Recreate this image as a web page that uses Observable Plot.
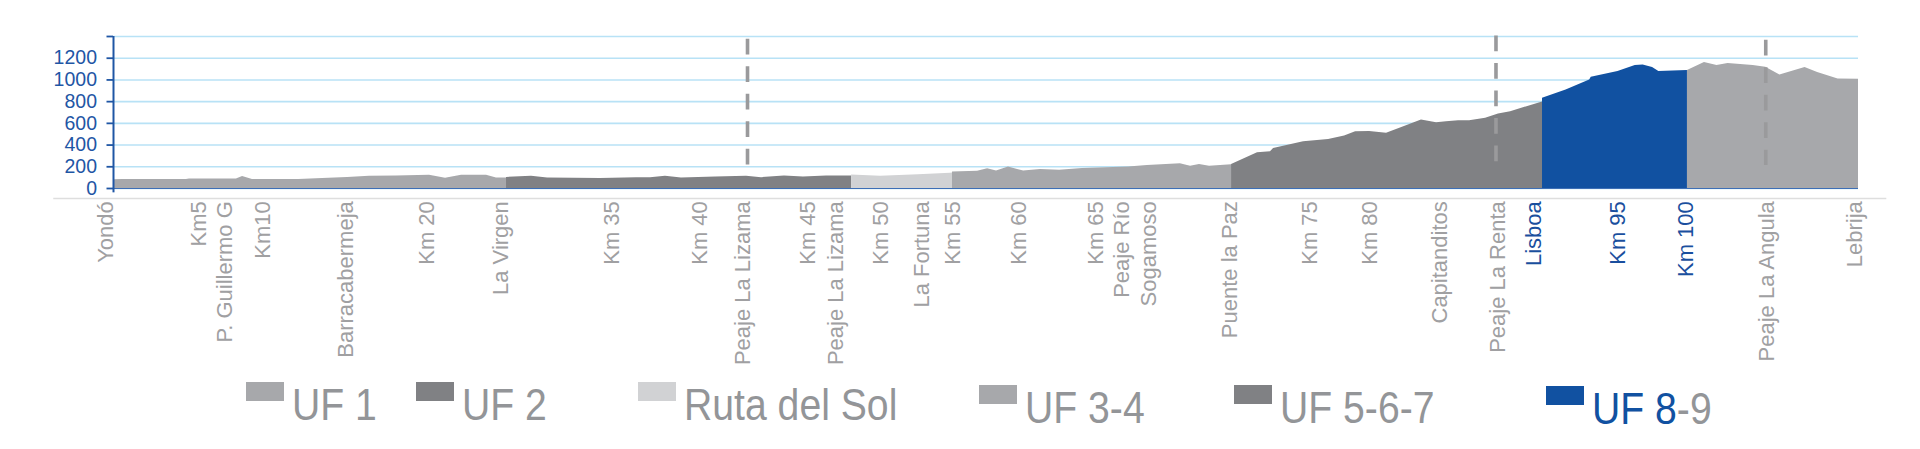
<!DOCTYPE html>
<html>
<head>
<meta charset="utf-8">
<script src="https://cdn.jsdelivr.net/npm/d3@7"></script>
<script src="https://cdn.jsdelivr.net/npm/@observablehq/plot@0.6"></script>
<style>
  html, body { margin: 0; padding: 0; background: #fff; }
  #wrap { position: relative; width: 1920px; height: 449px; overflow: hidden; font-family: "Liberation Sans", Arial, sans-serif; }
  #wrap svg { position: absolute; left: 0; top: 0; }
  .sw { position: absolute; width: 38px; height: 19px; }
  .lt { position: absolute; font-size: 44px; line-height: 44px; color: #939598; transform: scaleX(0.89); transform-origin: 0 0; white-space: nowrap; }
</style>
</head>
<body>
<div id="wrap"></div>
<script>
// ---- Elevation profile (km along route, elevation in m) ----
const uf1Km   = [0, 0.57, 4.64, 4.83, 7.82, 8.21, 8.84, 11.77, 13.3, 14.89, 16.28, 18.0, 20.1, 21.12, 22.14, 23.73, 24.36, 25.0];
const uf1Elev = [80, 84, 82, 88, 88, 110, 83, 82, 93, 102, 112, 114, 123, 94, 121, 122, 96, 96];

const uf2Km   = [25.0, 26.59, 27.61, 30.98, 33.27, 34.16, 35.11, 36.13, 38.3, 40.27, 41.22, 42.68, 43.89, 45.36, 46.95];
const uf2Elev = [102, 113, 96, 92, 100, 100, 112, 97, 106, 112, 100, 115, 106, 115, 115];

const rutaKm   = [46.95, 48.79, 51.2, 53.24, 53.37];
const rutaElev = [124, 112, 127, 140, 142];

const uf34Km   = [53.37, 54.96, 55.6, 56.17, 56.93, 57.89, 58.97, 60.18, 61.64, 64.57, 65.77, 67.87, 68.51, 69.08, 69.72, 71.12];
const uf34Elev = [152, 158, 182, 161, 197, 161, 176, 167, 185, 197, 212, 227, 206, 221, 206, 218];

const uf567Km   = [71.12, 72.77, 73.6, 73.79, 75.7, 77.29, 78.31, 79.01, 79.9, 80.98, 81.99, 83.2, 84.16, 84.79, 85.56, 86.26, 87.28, 88.1, 88.87, 90.9];
const uf567Elev = [221, 329, 338, 369, 431, 452, 483, 523, 526, 508, 563, 631, 606, 615, 625, 625, 646, 686, 708, 796];

const uf89Km   = [90.9, 92.4, 93.9, 94.0, 95.7, 96.8, 97.3, 97.9, 98.3, 99.2, 100.12];
const uf89Elev = [831, 908, 1000, 1025, 1077, 1132, 1138, 1114, 1077, 1083, 1086];

const lebrijaKm   = [100.12, 101.2, 102.0, 102.7, 104.3, 105.1, 106.0, 107.6, 108.4, 109.7, 111];
const lebrijaElev = [1086, 1160, 1132, 1152, 1134, 1116, 1046, 1114, 1068, 1009, 1006];

const segmentNames  = ["UF 1", "UF 2", "Ruta del Sol", "UF 3-4", "UF 5-6-7", "UF 8-9", "Lisboa-Lebrija"];
const segmentColors = ["#a7a8ab", "#808184", "#d1d2d4", "#a7a8ab", "#808184", "#1151a1", "#a7a8ab"];
const segmentKm   = [uf1Km, uf2Km, rutaKm, uf34Km, uf567Km, uf89Km, lebrijaKm];
const segmentElev = [uf1Elev, uf2Elev, rutaElev, uf34Elev, uf567Elev, uf89Elev, lebrijaElev];

// ---- Place labels along the route ----
const placeNames = ["Yondó", "Km5", "P. Guillermo G", "Km10", "Barracabermeja", "Km 20", "La Virgen", "Km 35", "Km 40",
  "Peaje La Lizama", "Km 45", "Peaje La Lizama", "Km 50", "La Fortuna", "Km 55", "Km 60", "Km 65", "Peaje Río\nSogamoso",
  "Puente la Paz", "Km 75", "Km 80", "Capitanditos", "Peaje La Renta", "Lisboa", "Km 95", "Km 100", "Peaje La Angula", "Lebrija"];
const placeKm = [-0.45, 5.47, 7.12, 9.54, 14.82, 19.97, 24.62, 31.68, 37.28,
  40.07, 44.15, 45.93, 48.79, 51.46, 53.43, 57.63, 62.47, 65.86,
  70.99, 76.08, 79.9, 84.41, 88.1, 90.33, 95.73, 100.0, 105.15, 110.8];
const highlightedPlaces = ["Lisboa", "Km 95", "Km 100"];

// ---- Toll stations (dashed markers) ----
const tollKm     = [40.33, 87.94, 105.1];
const tollTop    = [1375, 1405, 1365];
const tollBottom = [212, 240, 212];

// ---- Y axis ----
const yTicks      = [0, 200, 400, 600, 800, 1000, 1200, 1400];
const yTickLabels = ["0", "200", "400", "600", "800", "1000", "1200", ""];

// ---- Legend ----
const legendNames  = ["UF 1", "UF 2", "Ruta del Sol", "UF 3-4", "UF 5-6-7", "UF 8-9"];
const legendColors = ["#a7a8ab", "#808184", "#d1d2d4", "#a7a8ab", "#808184", "#1151a1"];

// ---- Build tables ----
const profile = segmentNames.flatMap((name, s) =>
  segmentKm[s].map((k, i) => ({seg: name, km: k, elev: segmentElev[s][i]})));
const places = placeNames.map((name, i) => ({name, km: placeKm[i], hi: highlightedPlaces.includes(name)}));
const tolls = tollKm.map((k, i) => ({km: k, top: tollTop[i], bottom: tollBottom[i]}));
const yLabelMap = new Map(yTicks.map((t, i) => [t, yTickLabels[i]]));

const xMax = 111;
const labelStyle = {x: "km", text: "name", frameAnchor: "bottom", dx: 7, dy: 12.7, rotate: -90,
  textAnchor: "end", lineHeight: 1.2, fontSize: 22};
const chart = Plot.plot({
  width: 1920,
  height: 375,
  marginLeft: 113,
  marginRight: 62,
  marginTop: 36,
  marginBottom: 187,
  x: {domain: [0, xMax], axis: null},
  y: {domain: [0, 1400], axis: null},
  color: {domain: segmentNames, range: segmentColors},
  style: {fontFamily: "'Liberation Sans', Arial, sans-serif", background: "white", overflow: "visible"},
  marks: [
    Plot.ruleY(yTicks, {x1: 0, x2: xMax, stroke: "#b8e2f6", strokeWidth: 1.6}),
    Plot.areaY(profile, {x: "km", y1: 0, y2: "elev", z: "seg", fill: "seg"}),
    Plot.ruleY([0], {x1: 0, x2: xMax, stroke: "#3d6fb6", strokeWidth: 1}),
    Plot.ruleY([0], {x1: -3.8, x2: 112.8, dy: 10, stroke: "#dedede", strokeWidth: 1.5}),
    Plot.ruleX(tolls, {x: "km", y1: "top", y2: "bottom", stroke: "#9a9a9c", strokeWidth: 3.6, strokeDasharray: "15.7,11.8"}),
    Plot.ruleX([0], {y1: -40, y2: 1400, stroke: "#1f56a5", strokeWidth: 2}),
    Plot.axisY(yTicks, {anchor: "left", tickSize: 6.5, tickPadding: 10, tickFormat: d => yLabelMap.get(d),
      stroke: "#1f56a5", fill: "#1f56a5", strokeWidth: 1.8, fontSize: 19.5}),
    Plot.text(places.filter(d => !d.hi), {...labelStyle, fill: "#a0a0a2"}),
    Plot.text(places.filter(d => d.hi), {...labelStyle, fill: "#1a4f9e"})
  ]
});

const wrap = document.getElementById("wrap");
wrap.appendChild(chart);

// Legend (below the SVG)
const legendLeft = [246, 416, 638, 979, 1234, 1546];
const legendTop  = [382, 382, 382, 385, 385, 386];
legendNames.forEach((name, i) => {
  const sw = document.createElement("div");
  sw.className = "sw";
  sw.style.left = legendLeft[i] + "px";
  sw.style.top = legendTop[i] + "px";
  sw.style.background = legendColors[i];
  wrap.appendChild(sw);
  const t = document.createElement("div");
  t.className = "lt";
  t.style.left = (legendLeft[i] + 46) + "px";
  t.style.top = (legendTop[i] + 1) + "px";
  if (name === "UF 8-9") {
    t.innerHTML = '<span style="color:#1151a1">UF 8</span>-9';
  } else {
    t.textContent = name;
  }
  wrap.appendChild(t);
});
</script>
</body>
</html>
